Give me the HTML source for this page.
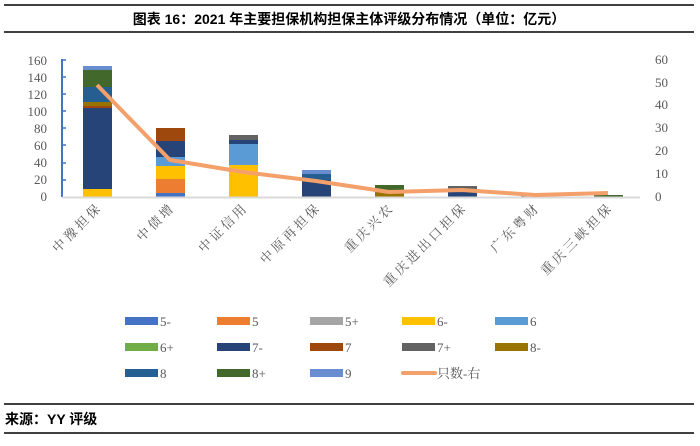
<!DOCTYPE html>
<html><head><meta charset="utf-8"><style>
body{margin:0;background:#fff;width:700px;height:441px;overflow:hidden}
svg text{font-family:"Liberation Serif","Noto Serif CJK SC",serif;fill:#595959}
</style></head><body>
<svg width="700" height="441" xmlns="http://www.w3.org/2000/svg">
<line x1="4" y1="5" x2="694" y2="5" stroke="#000" stroke-width="1.5"/>
<line x1="4" y1="32" x2="694" y2="32" stroke="#000" stroke-width="1.5"/>
<text x="349" y="24" text-anchor="middle" style="font-family:'Liberation Sans','Noto Sans CJK SC',sans-serif;font-weight:bold;font-size:14px;fill:#000">图表 16：2021 年主要担保机构担保主体评级分布情况（单位：亿元）</text>
<g font-size="13" text-anchor="end">
<text x="47" y="201">0</text><text x="47" y="184">20</text><text x="47" y="167">40</text><text x="47" y="150">60</text><text x="47" y="133">80</text><text x="47" y="116">100</text><text x="47" y="99">120</text><text x="47" y="82">140</text><text x="47" y="65">160</text>
</g>
<g font-size="13" text-anchor="start">
<text x="655" y="201">0</text><text x="655" y="178">10</text><text x="655" y="155">20</text><text x="655" y="132">30</text><text x="655" y="109">40</text><text x="655" y="87">50</text><text x="655" y="64">60</text>
</g>
<line x1="62" y1="59" x2="62" y2="197" stroke="#4472C4" stroke-width="2"/>
<g stroke="#4472C4" stroke-width="1.5"><line x1="62" y1="60" x2="66" y2="60"/><line x1="62" y1="77" x2="66" y2="77"/><line x1="62" y1="94" x2="66" y2="94"/><line x1="62" y1="111" x2="66" y2="111"/><line x1="62" y1="128" x2="66" y2="128"/><line x1="62" y1="145" x2="66" y2="145"/><line x1="62" y1="163" x2="66" y2="163"/><line x1="62" y1="180" x2="66" y2="180"/></g>
<g>
<rect x="83" y="189" width="29" height="8" fill="#FFC000"/>
<rect x="83" y="108" width="29" height="81" fill="#264478"/>
<rect x="83" y="106" width="29" height="2" fill="#9E480E"/>
<rect x="83" y="102" width="29" height="4" fill="#997300"/>
<rect x="83" y="87" width="29" height="15" fill="#255E91"/>
<rect x="83" y="70" width="29" height="17" fill="#43682B"/>
<rect x="83" y="66" width="29" height="4" fill="#698ED0"/>

<rect x="156" y="193" width="29" height="4" fill="#4472C4"/>
<rect x="156" y="179" width="29" height="14" fill="#ED7D31"/>
<rect x="156" y="166" width="29" height="13" fill="#FFC000"/>
<rect x="156" y="157" width="29" height="9" fill="#5B9BD5"/>
<rect x="156" y="141" width="29" height="16" fill="#264478"/>
<rect x="156" y="128" width="29" height="13" fill="#9E480E"/>

<rect x="229" y="165" width="29" height="32" fill="#FFC000"/>
<rect x="229" y="144" width="29" height="21" fill="#5B9BD5"/>
<rect x="229" y="140" width="29" height="4" fill="#264478"/>
<rect x="229" y="135" width="29" height="5" fill="#636363"/>

<rect x="302" y="180" width="29" height="17" fill="#264478"/>
<rect x="302" y="174" width="29" height="6" fill="#255E91"/>
<rect x="302" y="170" width="29" height="4" fill="#698ED0"/>

<rect x="375" y="190" width="29" height="7" fill="#997300"/>
<rect x="375" y="185" width="29" height="5" fill="#43682B"/>

<rect x="448" y="190" width="29" height="7" fill="#264478"/>
<rect x="448" y="186" width="29" height="4" fill="#636363"/>

<rect x="521" y="194" width="29" height="3" fill="#636363"/>
<rect x="594" y="195" width="29" height="2" fill="#43682B"/>
</g>
<line x1="62" y1="197.5" x2="640" y2="197.5" stroke="#D9D9D9" stroke-width="2"/>
<polyline points="97,85 170,160 243,172 316,181 389,192 462,190 535,195 608,193" fill="none" stroke="#F4A06A" stroke-width="4" stroke-linejoin="round"/>
<g font-size="13" letter-spacing="3">
<text transform="translate(103,208) rotate(-45)" text-anchor="end">中豫担保</text>
<text transform="translate(176,208) rotate(-45)" text-anchor="end">中债增</text>
<text transform="translate(249,208) rotate(-45)" text-anchor="end">中证信用</text>
<text transform="translate(322,208) rotate(-45)" text-anchor="end">中原再担保</text>
<text transform="translate(395,208) rotate(-45)" text-anchor="end">重庆兴农</text>
<text transform="translate(468,208) rotate(-45)" text-anchor="end">重庆进出口担保</text>
<text transform="translate(541,208) rotate(-45)" text-anchor="end">广东粤财</text>
<text transform="translate(614,208) rotate(-45)" text-anchor="end">重庆三峡担保</text>
</g>
<g font-size="13">
<rect x="125" y="317" width="33" height="8" fill="#4472C4"/><text x="160" y="326">5-</text>
<rect x="217" y="317" width="33" height="8" fill="#ED7D31"/><text x="252" y="326">5</text>
<rect x="310" y="317" width="33" height="8" fill="#A5A5A5"/><text x="345" y="326">5+</text>
<rect x="402" y="317" width="33" height="8" fill="#FFC000"/><text x="437" y="326">6-</text>
<rect x="495" y="317" width="33" height="8" fill="#5B9BD5"/><text x="530" y="326">6</text>
<rect x="125" y="343" width="33" height="8" fill="#70AD47"/><text x="160" y="352">6+</text>
<rect x="217" y="343" width="33" height="8" fill="#264478"/><text x="252" y="352">7-</text>
<rect x="310" y="343" width="33" height="8" fill="#9E480E"/><text x="345" y="352">7</text>
<rect x="402" y="343" width="33" height="8" fill="#636363"/><text x="437" y="352">7+</text>
<rect x="495" y="343" width="33" height="8" fill="#997300"/><text x="530" y="352">8-</text>
<rect x="125" y="369" width="33" height="8" fill="#255E91"/><text x="160" y="378">8</text>
<rect x="217" y="369" width="33" height="8" fill="#43682B"/><text x="252" y="378">8+</text>
<rect x="310" y="369" width="33" height="8" fill="#698ED0"/><text x="345" y="378">9</text>
<line x1="403" y1="373" x2="435" y2="373" stroke="#F4A06A" stroke-width="4" stroke-linecap="round"/><text x="437" y="378">只数-右</text>
</g>
<line x1="4" y1="404" x2="694" y2="404" stroke="#000" stroke-width="1.5"/>
<line x1="4" y1="433" x2="694" y2="433" stroke="#000" stroke-width="1.5"/>
<text x="5" y="424" style="font-family:'Liberation Sans','Noto Sans CJK SC',sans-serif;font-weight:bold;font-size:14px;fill:#000">来源：YY 评级</text>
</svg>
</body></html>
